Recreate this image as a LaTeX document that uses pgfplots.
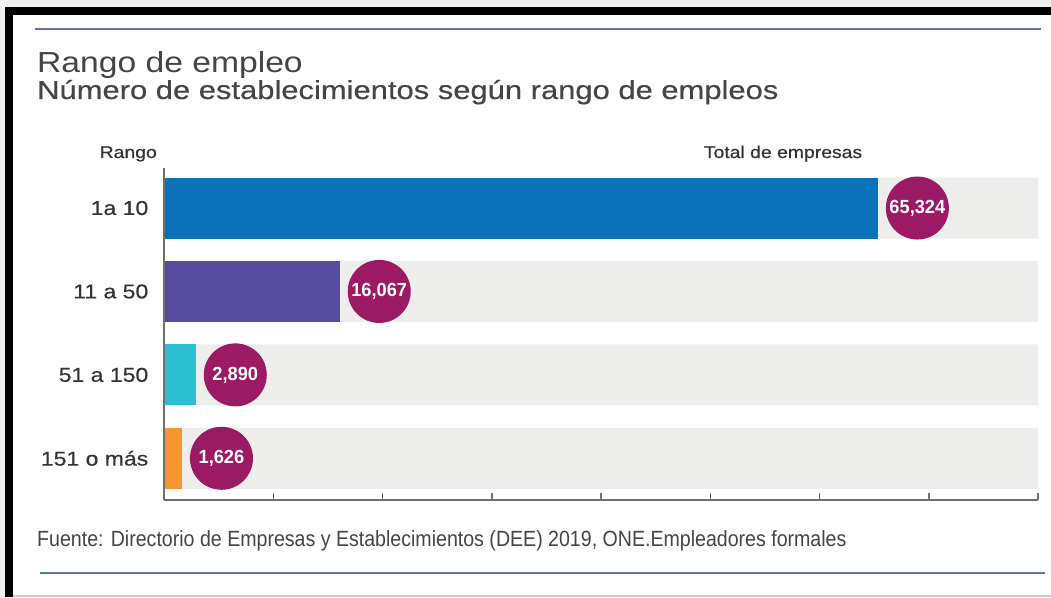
\documentclass[border=0pt]{standalone}
\usepackage{pgfplots}
\pgfplotsset{compat=1.18}
\usepackage{fontspec}
\setmainfont{Liberation Sans}
\newfontfamily\wfont[FakeStretch=1.16]{Liberation Sans}
\newfontfamily\mfont[FakeStretch=1.14,FakeBold=0.6]{Liberation Sans}
\newfontfamily\sfont[FakeStretch=1.19,FakeBold=0.35]{Liberation Sans}
\newfontfamily\tfont[FakeStretch=1.15,FakeBold=0.35]{Liberation Sans}
\newfontfamily\cfont[FakeStretch=0.89]{Liberation Sans}
\newfontfamily\nfont[FakeStretch=0.96]{Liberation Sans}
\definecolor{c1}{HTML}{0A72B9}
\definecolor{c2}{HTML}{574B9F}
\definecolor{c3}{HTML}{2BBFD1}
\definecolor{c4}{HTML}{F7962F}
\definecolor{mag}{HTML}{9C1A63}
\definecolor{bgbar}{HTML}{EDEDEB}
\definecolor{rulec}{HTML}{5A79A5}
\definecolor{txt}{HTML}{454545}
\definecolor{txtd}{HTML}{333333}
\definecolor{axisgray}{HTML}{707070}
\definecolor{outer}{HTML}{F0F0F0}
\begin{document}
\begin{tikzpicture}
\begin{scope}[x=1pt,y=1pt]
\useasboundingbox (0,0) rectangle (1051,597);
\fill[white] (0,0) rectangle (1051,597);
\fill[outer] (0,590) rectangle (1051,597);
\fill[outer] (0,0) rectangle (5,597);
\fill[black] (5,582) rectangle (1051,590);
\fill[black] (5,0) rectangle (13,590);
\fill[gray!40] (13,0) rectangle (1051,2);
\draw[rulec, line width=2pt] (35,568) -- (1041,568);
\draw[rulec, line width=2pt] (40,24) -- (1045,24);
\node[anchor=base west, inner sep=0, text=txt, font=\wfont\fontsize{29}{29}\selectfont] at (37,524) {Rango de empleo};
\node[anchor=base west, inner sep=0, text=txt, font=\sfont\fontsize{26}{26}\selectfont] at (37,498) {Número de establecimientos según rango de empleos};
\node[anchor=base east, inner sep=0, text=txtd, font=\mfont\fontsize{17}{17}\selectfont] at (157,439) {Rango};
\node[anchor=base, inner sep=0, text=txtd, font=\mfont\fontsize{17}{17}\selectfont] at (783,439) {Total de empresas};
\node[anchor=base west, inner sep=0, text=txt, font=\cfont\fontsize{22}{22}\selectfont] at (37,51) {Fuente: Directorio de Empresas y Establecimientos (DEE) 2019, ONE.Empleadores formales};
\end{scope}
\begin{axis}[
  at={(164pt,97pt)}, anchor=south west, scale only axis,
  width=874pt, height=332pt,
  xmin=0, xmax=80000, ymin=-0.5, ymax=3.48,
  xbar, bar width=61pt, bar shift=0pt,
  axis on top,
  axis x line=bottom, axis y line=left,
  axis line style={-, draw=axisgray, line width=1.5pt},
  scaled x ticks=false,
  xtick={0,10000,...,80000}, xticklabels={},
  xtick align=inside, major tick length=7pt,
  x tick style={draw=axisgray, line width=1.5pt},
  ytick={0,1,2,3},
  yticklabels={151 o más, 51 a 150, 11 a 50, 1a 10},
  y tick style={draw=none},
  yticklabel style={font=\tfont\fontsize{20}{20}\selectfont, text=txtd, inner sep=0pt, xshift=-12pt},
  clip=false,
  /pgf/number format/assume math mode=true,
  every node near coord/.append style={circle, fill=mag, text=white, inner sep=0pt, minimum size=63pt, anchor=west, xshift=8pt, font=\nfont\bfseries\fontsize{19}{19}\selectfont},
]
\addplot[fill=bgbar, draw=none, forget plot] coordinates {(80000,0) (80000,1) (80000,2) (80000,3)};
\addplot[fill=c1, draw=none, point meta=x, nodes near coords={\pgfmathprintnumber[1000 sep={,}]{\pgfplotspointmeta}}] coordinates {(65324,3)};
\addplot[fill=c2, draw=none, point meta=x, nodes near coords={\pgfmathprintnumber[1000 sep={,}]{\pgfplotspointmeta}}] coordinates {(16067,2)};
\addplot[fill=c3, draw=none, point meta=x, nodes near coords={\pgfmathprintnumber[1000 sep={,}]{\pgfplotspointmeta}}] coordinates {(2890,1)};
\addplot[fill=c4, draw=none, point meta=x, nodes near coords={\pgfmathprintnumber[1000 sep={,}]{\pgfplotspointmeta}}] coordinates {(1626,0)};
\end{axis}
\end{tikzpicture}
\end{document}
